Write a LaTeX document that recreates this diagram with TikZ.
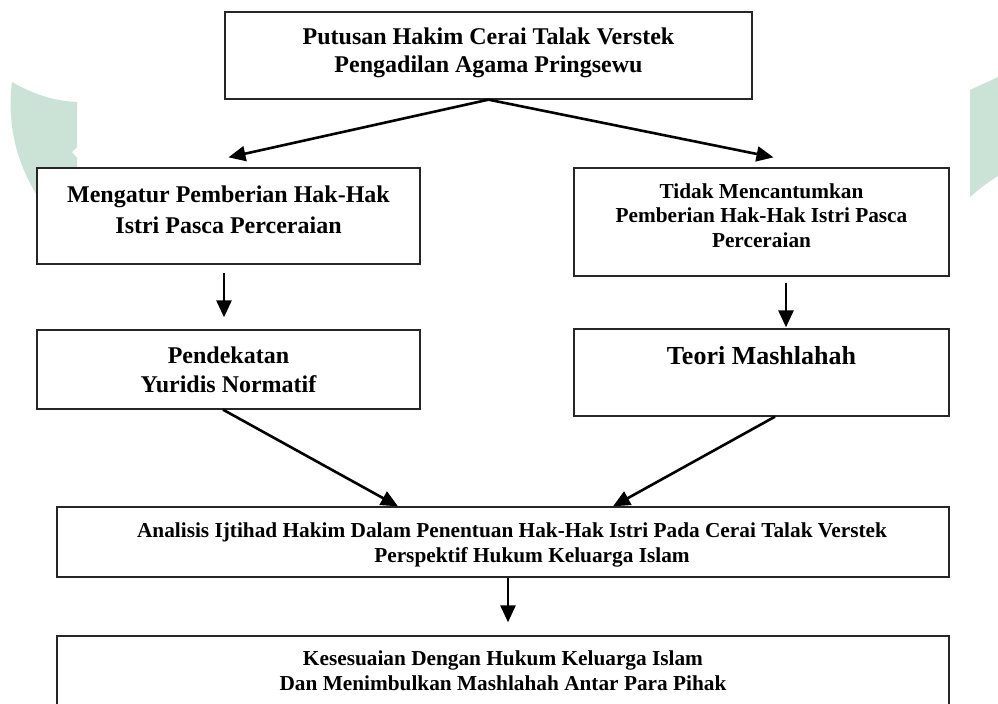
\documentclass[tikz,border=0pt]{standalone}
\usepackage{fontspec}
\setmainfont{Liberation Serif}
\usepackage{tikz}
\usetikzlibrary{arrows.meta}

\definecolor{hijaupudar}{RGB}{203,226,214}

\begin{document}
\begin{tikzpicture}[x=0.5pt, y=-0.5pt,
  kotak/.style={draw=black!85, line width=0.65pt, fill=white, inner sep=0pt},
  panah/.style={-{Triangle[length=8.5pt,width=7.5pt]}, line width=1.3pt}]

\useasboundingbox (0,0) rectangle (998,703);

% logo di latar
\fill[hijaupudar] (12,82) .. controls (35,95) and (55,101) .. (77,102)
  -- (77,147) -- (72,152) -- (77,158) -- (77,200) -- (40,200)
  .. controls (20,170) and (6,130) .. (12,82) -- cycle;
\fill[hijaupudar] (970,90) .. controls (980,85) and (990,81) .. (998,77)
  -- (998,176) .. controls (988,182) and (978,190) .. (970,197) -- cycle;

\node[kotak] (putusan) at (488.5,55.5) {
\begin{minipage}[c][43.5pt][t]{263.5pt}
\centering\fontsize{12}{14}\selectfont\bfseries\vspace*{7.9pt}
Putusan Hakim Cerai Talak Verstek\\
Pengadilan Agama Pringsewu
\end{minipage}
};

\node[kotak] (atur) at (228.5,216) {
\begin{minipage}[c][48pt][t]{191.5pt}
\centering\fontsize{12}{15.5}\selectfont\bfseries\vspace*{8.9pt}
Mengatur Pemberian Hak-Hak\\
Istri Pasca Perceraian
\end{minipage}
};

\node[kotak] (tidak) at (761.5,222) {
\begin{minipage}[c][54pt][t]{187.5pt}
\centering\fontsize{10.65}{12.25}\selectfont\bfseries\vspace*{7.8pt}
Tidak Mencantumkan\\
Pemberian Hak-Hak Istri Pasca\\
Perceraian
\end{minipage}
};

\node[kotak] (yuridis) at (228.5,369.5) {
\begin{minipage}[c][39.5pt][t]{191.5pt}
\centering\fontsize{12}{14.5}\selectfont\bfseries\vspace*{8.4pt}
Pendekatan\\
Yuridis Normatif
\end{minipage}
};

\node[kotak] (teori) at (761.5,372.5) {
\begin{minipage}[c][43.5pt][t]{187.5pt}
\centering\fontsize{13}{15}\selectfont\bfseries\vspace*{8.7pt}
Teori Mashlahah
\end{minipage}
};

\node[kotak] (analisis) at (503,542) {
\begin{minipage}[c][35pt][t]{446pt}
\centering\fontsize{10.65}{12.5}\selectfont\bfseries\vspace*{7.8pt}
\hspace*{9pt}Analisis Ijtihad Hakim Dalam Penentuan Hak-Hak Istri Pada Cerai Talak Verstek\\
\hspace*{29pt}Perspektif Hukum Keluarga Islam
\end{minipage}
};

\node[kotak] (sesuai) at (503,672) {
\begin{minipage}[c][36pt][t]{446pt}
\centering\fontsize{10.65}{12.5}\selectfont\bfseries\vspace*{7.3pt}
Kesesuaian Dengan Hukum Keluarga Islam\\
Dan Menimbulkan Mashlahah Antar Para Pihak
\end{minipage}
};

\draw[panah] (putusan.south) -- ([yshift=5pt]atur.north);
\draw[panah] (putusan.south) -- ([xshift=6pt,yshift=5pt]tidak.north);
\draw[panah] ([xshift=-2.25pt,yshift=-4pt]atur.south) -- ([xshift=-2.25pt,yshift=6pt]yuridis.north);
\draw[panah] ([xshift=12.25pt,yshift=-3pt]tidak.south) -- ([xshift=12.25pt,yshift=0.5pt]teori.north);
\draw[panah] ([xshift=-2.75pt]yuridis.south) -- ([xshift=-52.5pt]analisis.north);
\draw[panah] ([xshift=6.75pt]teori.south) -- ([xshift=55pt]analisis.north);
\draw[panah] ([xshift=2.5pt]analisis.south) -- ([xshift=2.5pt,yshift=6.5pt]sesuai.north);
\end{tikzpicture}
\end{document}
